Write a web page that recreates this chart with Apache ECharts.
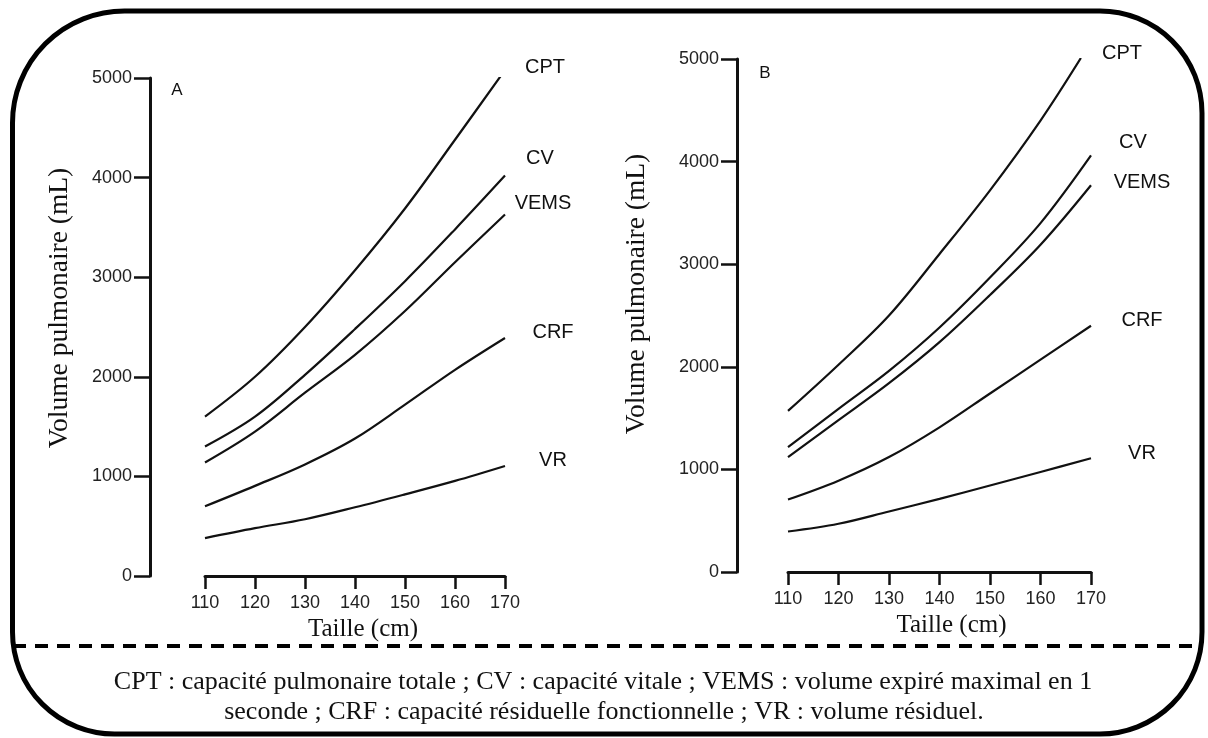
<!DOCTYPE html>
<html>
<head>
<meta charset="utf-8">
<script src="https://cdn.jsdelivr.net/npm/echarts@6/dist/echarts.min.js"></script>
<style>
  html, body { margin: 0; padding: 0; background: #fff; }
  #chart { width: 1208px; height: 738px; }
</style>
</head>
<body>
<div id="chart"></div>
<script>
// height (cm)
const heights = [110, 120, 130, 140, 150, 160, 170];
const heightsCptB = [110, 120, 130, 140, 150, 160, 168];

// panel A (mL)
const cptA  = [1600, 2000, 2500, 3070, 3690, 4380, 5080];
const cvA   = [1300, 1600, 2020, 2480, 2960, 3480, 4020];
const vemsA = [1140, 1450, 1840, 2220, 2660, 3150, 3630];
const crfA  = [700, 905, 1120, 1380, 1720, 2070, 2390];
const vrA   = [380, 480, 570, 690, 820, 955, 1105];

// panel B (mL)
const cptB  = [1570, 2020, 2500, 3100, 3720, 4400, 5010];
const cvB   = [1216, 1590, 1960, 2383, 2870, 3400, 4060];
const vemsB = [1120, 1480, 1840, 2240, 2700, 3190, 3770];
const crfB  = [706, 890, 1120, 1410, 1740, 2070, 2400];
const vrB   = [395, 470, 590, 713, 843, 975, 1109];

const curveNames = ['CPT', 'CV', 'VEMS', 'CRF', 'VR'];
const panelNames = ['A', 'B'];
const xTitle = 'Taille (cm)';
const yTitle = 'Volume pulmonaire (mL)';
const captionLines = [
  'CPT : capacité pulmonaire totale ; CV : capacité vitale ; VEMS : volume expiré maximal en 1',
  'seconde ; CRF : capacité résiduelle fonctionnelle ; VR : volume résiduel.'
];

const ink = '#111';
const sans = '"Liberation Sans", Arial, sans-serif';
const serif = '"Liberation Serif", "Times New Roman", serif';

const pair = (xs, ys) => xs.map((x, i) => [x, ys[i]]);

const line = (idx, xs, ys, name) => ({
  name,
  type: 'line',
  xAxisIndex: idx,
  yAxisIndex: idx,
  data: pair(xs, ys),
  smooth: 0.35,
  showSymbol: false,
  silent: true,
  lineStyle: { color: ink, width: 2.2 }
});

const xAxis = (gridIndex, padLeft) => ({
  gridIndex,
  type: 'value',
  min: 110,
  max: 170,
  interval: 10,
  axisLine: { show: true, lineStyle: { color: ink, width: 3 } },
  axisTick: { show: true, length: 13, lineStyle: { color: ink, width: 2.5 } },
  axisLabel: { color: '#222', fontSize: 18, fontFamily: sans, margin: 18 },
  splitLine: { show: false },
  name: xTitle,
  nameLocation: 'middle',
  nameGap: 40,
  nameTextStyle: { color: ink, fontSize: 25, fontFamily: serif, padding: [0, 0, 0, padLeft] }
});

const yAxis = (gridIndex, offset) => ({
  gridIndex,
  type: 'value',
  min: 0,
  max: 5000,
  interval: 1000,
  offset,
  axisLine: { show: true, lineStyle: { color: ink, width: 3 } },
  axisTick: { show: true, length: 16, lineStyle: { color: ink, width: 2.5 } },
  axisLabel: { color: '#222', fontSize: 18, fontFamily: sans, margin: 18, formatter: v => String(v) },
  splitLine: { show: false }
});

const txt = (x, y, text, font, size, extra) => Object.assign({
  type: 'text',
  x, y,
  silent: true,
  style: {
    text,
    fill: ink,
    font: size + 'px ' + font,
    align: 'center',
    verticalAlign: 'middle'
  }
}, extra || {});

// label centres, next to the curve ends
const labelPosA = [[545, 67], [540, 158], [543, 203], [553, 332], [553, 460]];
const labelPosB = [[1122, 53], [1133, 142], [1142, 182], [1142, 320], [1142, 453]];

const graphic = [
  {
    type: 'rect',
    silent: true,
    shape: { x: 12.5, y: 11, width: 1189.5, height: 723, r: [112, 102, 102, 102] },
    style: { fill: 'none', stroke: '#000', lineWidth: 5 }
  },
  {
    type: 'line',
    silent: true,
    shape: { x1: 13, y1: 646, x2: 1202, y2: 646 },
    style: { stroke: '#000', lineWidth: 4, lineDash: [13, 9] }
  },
  txt(603, 682, captionLines[0], serif, 26),
  txt(604, 712, captionLines[1], serif, 26),
  txt(177, 90, panelNames[0], sans, 17),
  txt(765, 73, panelNames[1], sans, 17),
  txt(60, 308, yTitle, serif, 27.5, { rotation: Math.PI / 2 }),
  txt(637, 294, yTitle, serif, 27.5, { rotation: Math.PI / 2 })
];
curveNames.forEach((n, i) => {
  graphic.push(txt(labelPosA[i][0], labelPosA[i][1], n, sans, 20));
  graphic.push(txt(labelPosB[i][0], labelPosB[i][1], n, sans, 20));
});

const chart = echarts.init(document.getElementById('chart'), null, { renderer: 'canvas' });
chart.setOption({
  backgroundColor: '#fff',
  animation: false,
  grid: [
    { left: 205, top: 78, width: 300, height: 498, outerBoundsMode: 'none' },
    { left: 788, top: 59, width: 303, height: 513, outerBoundsMode: 'none' }
  ],
  xAxis: [xAxis(0, 16), xAxis(1, 24)],
  yAxis: [yAxis(0, 55), yAxis(1, 51)],
  series: [
    line(0, heights, cptA, 'CPT'),
    line(0, heights, cvA, 'CV'),
    line(0, heights, vemsA, 'VEMS'),
    line(0, heights, crfA, 'CRF'),
    line(0, heights, vrA, 'VR'),
    line(1, heightsCptB, cptB, 'CPT'),
    line(1, heights, cvB, 'CV'),
    line(1, heights, vemsB, 'VEMS'),
    line(1, heights, crfB, 'CRF'),
    line(1, heights, vrB, 'VR')
  ],
  graphic
});
</script>
</body>
</html>
